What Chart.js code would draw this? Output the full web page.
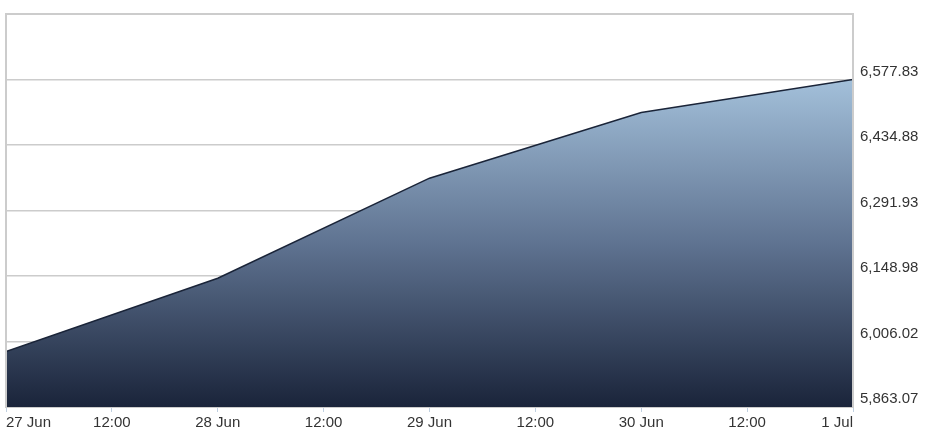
<!DOCTYPE html>
<html>
<head>
<meta charset="utf-8">
<script src="https://cdn.jsdelivr.net/npm/chart.js@4/dist/chart.umd.min.js"></script>
<style>
  html, body { margin: 0; padding: 0; background: #fff; }
  #wrap { width: 926px; height: 440px; }
</style>
</head>
<body>
<div id="wrap"><canvas id="chart" width="926" height="440"></canvas></div>
<script>
// hours since 27 Jun 00:00
const xHours = [0, 24, 48, 72, 96];
const prices = [5983.97, 6143.97, 6362.5, 6505.7, 6577.83];

const xTickHours = [0, 12, 24, 36, 48, 60, 72, 84, 96];
const xTickLabels = ["27 Jun", "12:00", "28 Jun", "12:00", "29 Jun", "12:00", "30 Jun", "12:00", "1 Jul"];
const yTicks = [5863.07, 6006.02, 6148.98, 6291.93, 6434.88, 6577.83];
const yMax = 6720.78;

const points = xHours.map((h, i) => ({ x: h, y: prices[i] }));

// first x label left-aligned, last one right-aligned
const edgeLabels = {
  id: "edgeLabels",
  beforeDraw(chart) {
    const items = chart.scales.x.getLabelItems();
    if (items.length) {
      items[0].options.textAlign = "left";
      items[items.length - 1].options.textAlign = "right";
    }
  },
};

// frame round the plot area
const frame = {
  id: "frame",
  afterDatasetsDraw(chart) {
    const { ctx, chartArea: a } = chart;
    ctx.save();
    ctx.strokeStyle = "#cccccc";
    ctx.lineWidth = 2;
    ctx.beginPath();
    ctx.moveTo(a.left, a.bottom);
    ctx.lineTo(a.left, a.top);
    ctx.lineTo(a.right, a.top);
    ctx.lineTo(a.right, a.bottom);
    ctx.stroke();
    ctx.restore();
  },
};

new Chart(document.getElementById("chart"), {
  type: "line",
  data: {
    datasets: [
      {
        data: points,
        borderColor: "#1a2438",
        borderWidth: 1.5,
        pointRadius: 0,
        tension: 0,
        fill: "start",
        backgroundColor: (c) => {
          const { chart } = c;
          const a = chart.chartArea;
          if (!a) return "#5a6f8a";
          const top = chart.scales.y.getPixelForValue(Math.max(...prices));
          const g = chart.ctx.createLinearGradient(0, top, 0, a.bottom);
          g.addColorStop(0, "rgb(163,192,218)");
          g.addColorStop(0.5, "rgb(95,115,145)");
          g.addColorStop(1, "rgb(26,36,58)");
          return g;
        },
      },
    ],
  },
  options: {
    responsive: false,
    animation: false,
    layout: { padding: { left: 6, top: 14 } },
    plugins: { legend: { display: false }, tooltip: { enabled: false } },
    scales: {
      x: {
        type: "linear",
        min: 0,
        max: 96,
        afterBuildTicks: (axis) => {
          axis.ticks = xTickHours.map((v) => ({ value: v }));
        },
        afterFit: (axis) => {
          axis.height = 33;
          axis.paddingLeft = 0;
          axis.paddingRight = 0;
        },
        ticks: {
          autoSkip: false,
          maxRotation: 0,
          padding: 2,
          color: "#333333",
          font: { family: "Arial, 'Liberation Sans'", size: 15 },
          callback: (v) => xTickLabels[xTickHours.indexOf(v)],
        },
        grid: {
          drawOnChartArea: false,
          drawTicks: true,
          tickLength: 5,
          color: "#c0d0e0",
        },
        border: { color: "#cccccc", width: 2 },
      },
      y: {
        position: "right",
        min: yTicks[0],
        max: yMax,
        afterBuildTicks: (axis) => {
          axis.ticks = yTicks.map((v) => ({ value: v }));
        },
        afterFit: (axis) => {
          axis.width = 73;
          axis.paddingTop = 0;
          axis.paddingBottom = 0;
        },
        ticks: {
          padding: 7,
          labelOffset: -8,
          color: "#333333",
          font: { family: "Arial, 'Liberation Sans'", size: 15 },
          callback: (v) =>
            v.toLocaleString("en-US", { minimumFractionDigits: 2, maximumFractionDigits: 2 }),
        },
        grid: { color: "#cccccc", lineWidth: 1.5, drawTicks: false },
        border: { display: false },
      },
    },
  },
  plugins: [edgeLabels, frame],
});
</script>
</body>
</html>
